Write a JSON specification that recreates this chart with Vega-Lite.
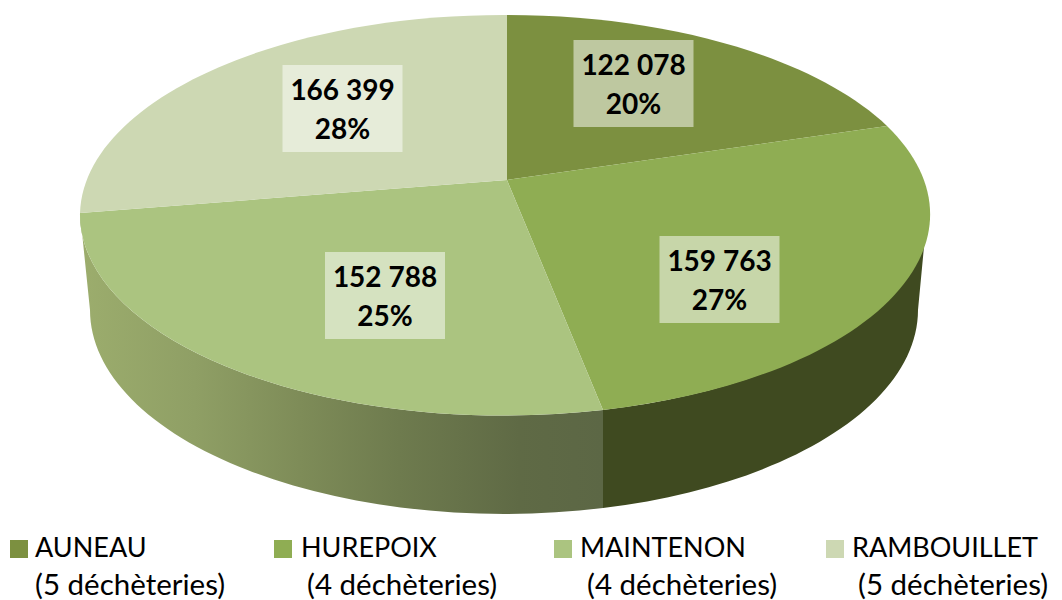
{
"$schema":"https://vega.github.io/schema/vega-lite/v6.json",
"width":1062,"height":600,"padding":0,
"autosize":{"type":"fit","contains":"padding"},
"background":"white",
"view":{"stroke":null},
"data":{"values":[
{"name":"AUNEAU","value":122078,"pct":20,"label":"122 078\n20%","sites":"(5 déchèteries)"},
{"name":"HUREPOIX","value":159763,"pct":27,"label":"159 763\n27%","sites":"(4 déchèteries)"},
{"name":"MAINTENON","value":152788,"pct":25,"label":"152 788\n25%","sites":"(4 déchèteries)"},
{"name":"RAMBOUILLET","value":166399,"pct":28,"label":"166 399\n28%","sites":"(5 déchèteries)"}
]},
"encoding":{
"color":{"field":"name","type":"nominal","legend":null,"scale":{"domain":["AUNEAU","HUREPOIX","MAINTENON","RAMBOUILLET"],"range":["#7c9040","#8fad53","#abc480","#cdd8b3"]}}
},
"resolve":{"scale":{"x":"independent","y":"independent"}},
"layer":[
{"transform":[{"filter":"datum.name==='MAINTENON'"}],
 "mark":{"type":"point","filled":true,"opacity":1,"size":4,
  "shape":"M-427,33 L-417,130 A414 204 0 0 0 96,328 L96,230 A424 201 0 0 1 -427,33 Z",
  "fill":{"gradient":"linear","x1":0,"y1":0,"x2":1,"y2":0,"stops":[{"offset":0,"color":"#9cad6d"},{"offset":0.22,"color":"#8f9f65"},{"offset":0.42,"color":"#7e8c58"},{"offset":0.61,"color":"#6e7b4e"},{"offset":0.84,"color":"#5f6a45"},{"offset":1,"color":"#5c6745"}]}},
 "encoding":{"color":{"value":null},
  "x":{"datum":507,"type":"quantitative","axis":null,"scale":{"domain":[0,1062],"range":[0,1062],"nice":false,"zero":false}},
  "y":{"datum":180,"type":"quantitative","axis":null,"scale":{"domain":[0,600],"range":[0,600],"nice":false,"zero":false}}}},
{"transform":[{"filter":"datum.name==='HUREPOIX'"}],
 "mark":{"type":"point","filled":true,"opacity":1,"size":4,"fill":"#3f4a20",
  "shape":"M96,230 A424 201 0 0 0 420,35 L411,130 A414 204 0 0 1 96,328 Z"},
 "encoding":{"color":{"value":null},
  "x":{"datum":507,"type":"quantitative","axis":null,"scale":{"domain":[0,1062],"range":[0,1062],"nice":false,"zero":false}},
  "y":{"datum":180,"type":"quantitative","axis":null,"scale":{"domain":[0,600],"range":[0,600],"nice":false,"zero":false}}}},
{"mark":{"type":"point","filled":true,"opacity":1,"size":4},
 "encoding":{
  "x":{"datum":507,"type":"quantitative","axis":null,"scale":{"domain":[0,1062],"range":[0,1062],"nice":false,"zero":false}},
  "y":{"datum":180,"type":"quantitative","axis":null,"scale":{"domain":[0,600],"range":[0,600],"nice":false,"zero":false}},
  "shape":{"field":"name","type":"nominal","legend":null,"scale":{"domain":["AUNEAU","HUREPOIX","MAINTENON","RAMBOUILLET"],"range":[
   "M0,0 L0,-165 A424 201 0 0 1 380,-54 Z",
   "M0,0 L380,-54 A424 201 0 0 1 96,230 Z",
   "M0,0 L96,230 A424 201 0 0 1 -427,33 Z",
   "M0,0 L-427,33 A424 201 0 0 1 0,-165 Z"]}}}},
{"mark":{"type":"point","filled":true,"opacity":1,"size":4,"fill":"#ffffff","fillOpacity":0.5,"shape":"M-60,-43.5 H60 V43.5 H-60 Z"},
 "encoding":{"color":{"value":null},
  "x":{"field":"value","type":"quantitative","axis":null,"scale":{"domain":[122078,152788,159763,166399],"range":[633.5,385,719.5,342.5],"nice":false,"zero":false}},
  "y":{"field":"value","type":"quantitative","axis":null,"scale":{"domain":[122078,152788,159763,166399],"range":[83.5,295.5,279.5,108.5],"nice":false,"zero":false}}}},
{"mark":{"type":"text","font":"Lato","fontWeight":"bold","fontSize":28,"align":"center","baseline":"alphabetic","lineBreak":"\n","lineHeight":39,"fill":"#000000"},
 "encoding":{"color":{"value":"#000000"},"text":{"field":"label"},
  "x":{"field":"value","type":"quantitative","axis":null,"scale":{"domain":[122078,152788,159763,166399],"range":[633.5,385,719.5,342.5],"nice":false,"zero":false}},
  "y":{"field":"value","type":"quantitative","axis":null,"scale":{"domain":[122078,152788,159763,166399],"range":[75,287,271,100],"nice":false,"zero":false}}}},
{"mark":{"type":"point","filled":true,"opacity":1,"size":4,"shape":"M-9,-9 H9 V9 H-9 Z"},
 "encoding":{
  "x":{"field":"value","type":"quantitative","axis":null,"scale":{"domain":[122078,152788,159763,166399],"range":[19,563,283,835],"nice":false,"zero":false}},
  "y":{"datum":549,"type":"quantitative","axis":null,"scale":{"domain":[0,600],"range":[0,600],"nice":false,"zero":false}}}},
{"mark":{"type":"text","font":"Lato","fontSize":27,"align":"left","baseline":"alphabetic"},
 "encoding":{"color":{"value":"#000000"},"text":{"field":"name"},
  "x":{"field":"value","type":"quantitative","axis":null,"scale":{"domain":[122078,152788,159763,166399],"range":[35,580,301,852],"nice":false,"zero":false}},
  "y":{"datum":557,"type":"quantitative","axis":null,"scale":{"domain":[0,600],"range":[0,600],"nice":false,"zero":false}}}},
{"mark":{"type":"text","font":"Lato","fontSize":29.5,"align":"left","baseline":"alphabetic"},
 "encoding":{"color":{"value":"#000000"},"text":{"field":"sites"},
  "x":{"field":"value","type":"quantitative","axis":null,"scale":{"domain":[122078,152788,159763,166399],"range":[35,587,307,858],"nice":false,"zero":false}},
  "y":{"datum":595,"type":"quantitative","axis":null,"scale":{"domain":[0,600],"range":[0,600],"nice":false,"zero":false}}}}
]
}
